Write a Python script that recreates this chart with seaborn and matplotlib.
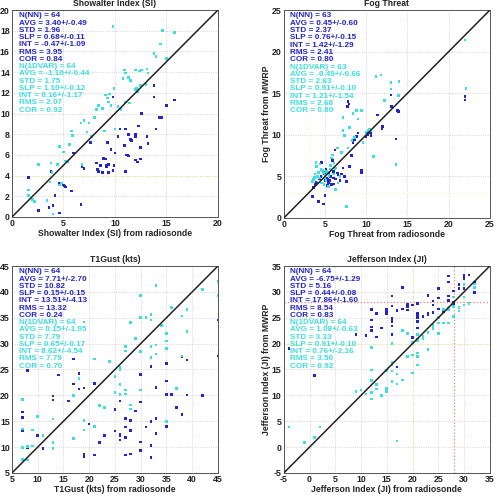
import matplotlib
matplotlib.use("Agg")
from matplotlib import pyplot as plt
import pandas as pd
import seaborn as sns

# Panel titles and axis labels
titles = ["Showalter Index (SI)", "Fog Threat", "T1Gust (kts)", "Jefferson Index (JI)"]
xlabels = ["Showalter Index (SI) from radiosonde", "Fog Threat from radiosonde",
           "T1Gust (kts) from radiosonde", "Jefferson Index (JI) from radiosonde"]
ylabels = ["", "Fog Threat from MWRP", "", "Jefferson Index (JI) from MWRP"]

# Axis ranges / ticks
limits = [(0, 20), (0, 25), (5, 45), (-5, 35)]
tick_steps = [2, 5, 5, 5]
xtick_steps = [5, 5, 5, 5]

# Statistics text (NN block and 1DVAR block)
stats_nn = [
    ["N(NN) = 64", "AVG = 3.40+/-0.49", "STD = 1.96", "SLP = 0.68+/-0.11",
     "INT = -0.47+/-1.09", "RMS = 3.95", "COR = 0.84"],
    ["N(NN) = 63", "AVG = 0.45+/-0.60", "STD = 2.37", "SLP = 0.76+/-0.15",
     "INT = 1.42+/-1.29", "RMS = 2.41", "COR = 0.80"],
    ["N(NN) = 64", "AVG = 7.71+/-2.70", "STD = 10.82", "SLP = 0.15+/-0.15",
     "INT = 13.51+/-4.13", "RMS = 13.32", "COR = 0.24"],
    ["N(NN) = 64", "AVG = -6.75+/-1.29", "STD = 5.16", "SLP = 0.44+/-0.08",
     "INT = 17.86+/-1.60", "RMS = 8.54", "COR = 0.83"],
]
stats_1dvar = [
    ["N(1DVAR) = 64", "AVG = -1.10+/-0.44", "STD = 1.75", "SLP = 1.10+/-0.12",
     "INT = 0.16+/-1.17", "RMS = 2.07", "COR = 0.92"],
    ["N(1DVAR) = 63", "AVG = -0.49+/-0.66", "STD = 2.63", "SLP = 0.91+/-0.10",
     "INT = 1.21+/-1.54", "RMS = 2.68", "COR = 0.80"],
    ["N(1DVAR) = 64", "AVG = 0.15+/-1.95", "STD = 7.79", "SLP = 0.65+/-0.17",
     "INT = 8.62+/-4.54", "RMS = 7.79", "COR = 0.70"],
    ["N(1DVAR) = 64", "AVG = 1.08+/-0.63", "STD = 3.33", "SLP = 0.91+/-0.10",
     "INT = 0.76+/-2.16", "RMS = 3.50", "COR = 0.92"],
]

# ---------------- Showalter Index ----------------
si_nn_x = [1.6, 2.6, 3.8, 3.6, 4.0, 4.2, 4.6, 4.6, 5.0, 5.2, 5.8, 6.0, 6.7, 6.8, 7.0,
           7.6, 8.2, 8.3, 8.4, 8.6, 8.8, 8.9, 9.1, 9.2, 9.3, 9.4, 9.4, 9.6, 9.8, 9.9,
           9.8, 10.0, 10.3, 10.5, 10.9, 11.0, 11.1, 11.0, 11.3, 11.3, 11.5, 11.6, 12.0,
           12.0, 12.0, 12.2, 12.3, 12.5, 12.6, 12.5, 13.1, 13.2, 13.8, 13.8, 14.0, 14.3,
           14.5, 15.0, 15.8, 3.4, 5.1, 9.2, 11.2, 8.9]
si_nn_y = [3.8, 0.6, 4.4, 0.9, 1.1, 2.1, 3.3, 0.4, 3.1, 2.9, 2.5, 6.2, 1.2, 4.9, 4.7,
           7.2, 5.2, 4.6, 4.4, 5.0, 4.3, 5.7, 5.6, 5.0, 7.2, 5.1, 4.3, 6.5, 4.5, 5.0,
           11.6, 6.2, 7.8, 8.5, 6.9, 8.5, 6.0, 4.4, 5.9, 8.0, 7.5, 7.4, 7.8, 8.0, 5.5,
           5.3, 8.8, 5.6, 10.0, 6.7, 7.8, 7.1, 12.7, 11.6, 8.5, 9.6, 9.6, 10.8, 11.3,
           1.6, 3.0, 4.9, 6.0, 5.6]
si_dv_x = [1.6, 1.6, 2.2, 2.6, 3.4, 3.8, 3.7, 4.0, 4.4, 4.6, 4.8, 5.0, 5.2, 5.4, 5.8,
           5.9, 6.7, 6.8, 7.0, 7.5, 7.7, 8.2, 8.4, 8.8, 9.0, 9.1, 9.3, 9.4, 9.5, 9.6,
           9.8, 9.9, 10.0, 10.3, 10.8, 10.9, 11.0, 11.0, 11.3, 11.5, 11.4, 12.0, 12.0,
           12.1, 12.2, 12.4, 12.6, 13.1, 13.2, 13.8, 14.0, 14.4, 14.6, 15.0, 15.8, 4.6,
           12.5, 3.9, 2.0, 5.6, 7.3, 8.0, 10.6, 13.0]
si_dv_y = [2.6, 2.1, 1.5, 5.1, 1.6, 5.2, 3.4, 0.3, 5.1, 6.8, 3.3, 6.3, 5.4, 5.3, 8.3,
           7.9, 9.1, 5.1, 9.3, 9.1, 7.8, 10.4, 10.8, 10.5, 8.3, 11.8, 11.5, 11.1, 11.9,
           10.8, 18.4, 12.4, 8.5, 10.7, 13.4, 14.2, 13.9, 11.1, 13.5, 13.2, 11.0, 14.2,
           12.3, 12.4, 12.1, 14.1, 14.2, 14.3, 13.9, 15.8, 15.5, 16.7, 18.0, 15.3, 17.8,
           3.1, 12.7, 4.3, 1.7, 7.0, 8.2, 9.6, 10.4, 12.8]

# ---------------- Fog Threat ----------------
fog_nn_x = [3.5, 3.6, 3.8, 4.2, 4.6, 4.8, 5.0, 5.0, 5.0, 5.2, 5.3, 5.4, 5.5, 5.6, 5.8,
            5.9, 6.0, 6.1, 6.2, 6.5, 6.8, 7.2, 7.4, 7.6, 7.7, 7.8, 7.9, 8.0, 8.4, 8.6,
            8.8, 9.0, 9.4, 9.4, 10.0, 10.3, 10.5, 10.6, 11.4, 11.9, 12.0, 13.0, 13.1,
            13.6, 13.8, 13.9, 22.0, 22.0, 4.3, 5.3, 4.0, 4.5, 5.7, 6.3, 4.9, 5.1, 6.6,
            3.9, 7.0, 5.4, 6.0, 8.2, 10.2]
fog_nn_y = [2.6, 3.7, 4.0, 2.0, 6.7, 1.7, 2.7, 5.5, 4.5, 4.8, 4.6, 5.5, 5.2, 4.5, 4.0,
            6.9, 5.6, 4.1, 8.2, 5.4, 4.5, 6.0, 5.0, 4.4, 13.4, 14.0, 13.7, 6.2, 9.1, 9.4,
            9.8, 10.2, 5.7, 5.5, 9.8, 10.2, 10.3, 9.9, 12.4, 10.7, 11.0, 14.8, 13.4, 9.5,
            12.9, 12.8, 14.6, 14.2, 4.7, 3.9, 4.2, 5.0, 5.0, 4.7, 5.3, 5.9, 5.2, 4.3,
            5.3, 4.3, 4.8, 7.5, 10.0]
fog_dv_x = [3.5, 3.6, 3.8, 3.9, 4.0, 4.2, 4.4, 4.5, 4.6, 4.8, 5.0, 5.2, 5.4, 5.6, 5.8,
            5.9, 6.2, 6.3, 6.5, 6.6, 6.8, 7.2, 7.2, 7.4, 7.6, 7.8, 8.0, 8.4, 8.6, 8.8,
            9.0, 9.4, 9.6, 10.0, 10.2, 10.6, 10.9, 11.2, 11.8, 12.2, 13.0, 13.0, 13.6,
            13.9, 14.0, 22.0, 22.1, 6.3, 5.3, 4.1, 4.7, 5.0, 5.5, 5.7, 6.0, 4.3, 3.7,
            5.1, 6.1, 4.9, 7.0, 8.3, 10.4]
fog_dv_y = [4.4, 4.6, 5.3, 6.7, 6.2, 5.5, 6.5, 5.8, 4.2, 5.4, 5.1, 5.6, 3.8, 5.9, 7.2,
            7.6, 5.9, 3.4, 8.4, 4.2, 5.0, 12.1, 10.5, 9.9, 1.4, 8.4, 10.9, 12.6, 9.7, 12.9,
            11.9, 12.9, 9.1, 10.3, 10.5, 10.5, 7.4, 17.0, 17.2, 14.1, 16.3, 15.5, 6.4, 14.7,
            16.4, 21.4, 15.6, 6.0, 5.5, 5.0, 5.7, 4.9, 5.1, 6.3, 5.3, 4.8, 4.9, 4.5, 6.6,
            4.0, 7.9, 9.3, 10.7]

# ---------------- T1Gust ----------------
gust_nn_x = [7, 7, 7, 8, 8, 9, 10, 11, 13, 13, 14, 16, 17, 17, 18, 18, 19, 19, 19, 21,
             21, 22, 23, 25, 25, 26, 26, 26, 27, 27, 27, 27, 28, 28, 28, 30, 30, 30, 30,
             31, 32, 32, 32, 32, 33, 33, 33, 35, 35, 35, 35, 36, 37, 38, 38, 39, 39, 42,
             45, 45, 13, 26, 29, 20]
gust_nn_y = [16.8, 15.7, 13.1, 24.8, 9.8, 10.2, 12.3, 9.7, 19.9, 19.1, 23.9, 18.9, 22.2,
             27.0, 24.2, 21.2, 21.4, 8.7, 8.2, 22.3, 8.5, 10.9, 12.3, 17.3, 13.1, 12.5,
             11.4, 18.9, 15.5, 13.9, 11.8, 8.5, 15.2, 13.2, 8.7, 24.0, 18.7, 11.0, 9.3,
             13.9, 25.6, 15.0, 10.3, 8.0, 21.5, 15.5, 12.6, 26.2, 22.8, 20.2, 14.0, 20.2,
             17.6, 27.4, 16.3, 26.8, 20.1, 20.0, 34.6, 27.6, 9.8, 12.2, 17.0, 14.5]
gust_dv_x = [7, 7, 7, 7, 8, 8, 9, 10, 11, 13, 13, 13, 17, 17, 18, 19, 19, 19, 21, 21,
             22, 23, 25, 25, 26, 26, 26, 26, 27, 27, 27, 27, 28, 28, 28, 30, 30, 30, 30,
             31, 32, 32, 32, 32, 33, 33, 33, 35, 35, 35, 35, 36, 37, 38, 38, 39, 39, 42,
             45, 45, 9, 24, 29, 34]
gust_dv_y = [19.2, 13.5, 9.9, 7.6, 7.5, 10.1, 13.3, 15.9, 12.3, 15.4, 10.9, 9.7, 20.0,
             11.7, 23.3, 34.2, 15.2, 13.3, 27.0, 14.0, 18.0, 17.6, 23.6, 20.6, 25.5, 25.0,
             22.1, 20.2, 29.4, 28.6, 21.0, 20.3, 34.1, 18.1, 17.4, 39.3, 35.0, 28.5, 21.0,
             35.0, 35.6, 34.6, 29.4, 27.3, 41.2, 29.7, 28.0, 32.0, 30.5, 29.0, 15.0, 37.0,
             21.3, 35.3, 27.6, 36.6, 32.3, 40.5, 42.0, 39.3, 10.2, 26.5, 31.0, 33.5]

# ---------------- Jefferson Index ----------------
ji_nn_x = [-4, 1, 9, 11, 12, 12, 12, 12, 13, 13, 14, 15, 15, 15, 16, 16, 16, 16, 16, 16,
           17, 17, 18, 18, 19, 19, 19, 20, 20, 21, 21, 21, 21, 21, 21, 22, 23, 23, 23, 24,
           24, 25, 25, 25, 26, 27, 27, 27, 28, 28, 28, 29, 29, 30, 30, 30, 30, 31, 32, 32,
           27, 28, 14, 24]
ji_nn_y = [19.1, 13.8, 21.8, 21.6, 26.6, 24.6, 23.2, 22.5, 25.8, 21.3, 23.0, 26.6, 26.2,
           25.7, 29.2, 27.3, 24.8, 24.3, 23.4, 21.8, 26.4, 15.5, 30.8, 26.7, 27.6, 27.2,
           26.5, 27.5, 21.2, 27.8, 25.8, 25.5, 25.0, 24.3, 23.0, 25.2, 29.3, 25.8, 25.5,
           28.2, 27.5, 30.6, 28.8, 26.7, 26.2, 33.1, 31.9, 29.2, 30.2, 28.0, 27.6, 31.4,
           30.7, 33.2, 32.6, 31.5, 30.7, 33.3, 31.9, 29.9, 28.3, 27.3, 23.0, 26.0]
ji_dv_x = [-4, -1, 1, 2, 9, 11, 12, 12, 12, 12, 12, 13, 13, 14, 15, 15, 16, 16, 16, 16,
           16, 17, 17, 17, 18, 18, 19, 19, 20, 20, 21, 21, 21, 21, 21, 22, 23, 23, 24, 24,
           25, 25, 26, 27, 27, 27, 28, 28, 28, 29, 29, 30, 30, 30, 31, 32, 32, 20, 15, 21,
           26, 22, 25, 10]
ji_dv_y = [3.9, 0.9, 1.9, 3.9, 10.7, 10.3, 19.2, 14.9, 12.9, 10.5, 9.3, 12.1, 11.2, 10.0,
           11.3, 10.8, 16.3, 16.0, 14.7, 12.7, 20.0, 14.1, 12.2, 1.2, 22.5, 13.0, 17.5,
           22.0, 17.8, 14.3, 20.8, 20.5, 18.2, 17.5, 15.9, 21.5, 22.2, 18.9, 23.5, 22.9,
           24.0, 22.0, 24.0, 24.0, 26.5, 26.9, 25.2, 27.2, 29.0, 26.3, 27.0, 31.4, 29.0,
           27.5, 27.8, 31.5, 30.9, 20.2, 14.8, 21.8, 26.6, 21.0, 25.0, 11.0]

nn_x = [si_nn_x, fog_nn_x, gust_nn_x, ji_nn_x]
nn_y = [si_nn_y, fog_nn_y, gust_nn_y, ji_nn_y]
dv_x = [si_dv_x, fog_dv_x, gust_dv_x, ji_dv_x]
dv_y = [si_dv_y, fog_dv_y, gust_dv_y, ji_dv_y]

# Threshold reference lines: (value, colour)
hlines = [[(4, "#f0f0a0")], [(3, "#f4f4c8")], [], [(20, "#f0f0a0"), (28, "#f08080")]]
vlines = [[], [(3, "#f4f4c8")], [], [(20, "#f0f0a0"), (28, "#f08080")]]

nn_color = "#2424c8"
dv_color = "#3ddede"

sns.set_style("white")
plt.rcParams['font.family'] = ['Liberation Sans', 'DejaVu Sans']
plt.rcParams['axes.unicode_minus'] = False

fig = plt.figure(figsize=(4.97, 4.96), dpi=100)
positions = [
    [0.024, 0.5625, 0.4145, 0.4173],
    [0.571, 0.5605, 0.4145, 0.4190],
    [0.024, 0.0464, 0.4145, 0.4173],
    [0.571, 0.0464, 0.4145, 0.4173],
]

for i in range(4):
    ax = fig.add_axes(positions[i])
    lo, hi = limits[i]

    df = pd.concat([
        pd.DataFrame({"x": nn_x[i], "y": nn_y[i], "src": "NN"}),
        pd.DataFrame({"x": dv_x[i], "y": dv_y[i], "src": "1DVAR"}),
    ])

    ax.set_xlim(lo, hi)
    ax.set_ylim(lo, hi)
    ax.set_xticks(range(lo, hi + 1, xtick_steps[i]))
    ax.set_yticks(range(lo, hi + 1, tick_steps[i]))
    ax.grid(True, linestyle=":", color="#c8c8c8", linewidth=0.6)
    ax.set_axisbelow(True)

    for v, c in hlines[i]:
        ax.axhline(v, color=c, linestyle=":", linewidth=0.9, zorder=1)
    for v, c in vlines[i]:
        ax.axvline(v, color=c, linestyle=":", linewidth=0.9, zorder=1)

    sns.scatterplot(data=df, x="x", y="y", hue="src", palette={"NN": nn_color, "1DVAR": dv_color},
                    s=3.5, marker="s", linewidth=0, legend=False, ax=ax, zorder=3)

    ax.plot([lo, hi], [lo, hi], color="#222222", linewidth=1.1, zorder=4)

    for j, line in enumerate(stats_nn[i] + stats_1dvar[i]):
        col = nn_color if j < 7 else dv_color
        ax.text(0.032, 0.972 - j * 0.0351, line, transform=ax.transAxes, color=col,
                fontsize=5.9, fontweight="bold", va="center", ha="left", zorder=5)

    ax.set_title(titles[i], fontsize=6.2, fontweight="bold", pad=3, color="#222222")
    ax.set_xlabel(xlabels[i], fontsize=6.2, fontweight="bold", labelpad=1, color="#222222")
    ax.set_ylabel(ylabels[i], fontsize=6.2, fontweight="bold", labelpad=1, color="#222222")
    ax.tick_params(direction="in", length=2.5, width=0.6, labelsize=6.3, pad=1.5,
                   colors="#222222")
    for lab in ax.get_xticklabels() + ax.get_yticklabels():
        lab.set_fontweight("bold")
    for sp in ax.spines.values():
        sp.set_color("#555555")
        sp.set_linewidth(0.7)

fig.savefig("out.png", dpi=100)
